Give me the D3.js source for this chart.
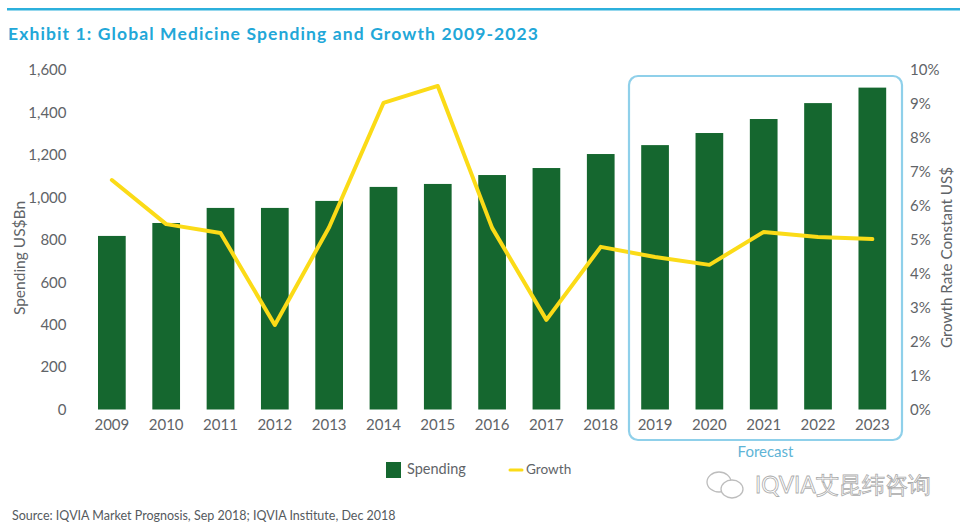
<!DOCTYPE html>
<html>
<head>
<meta charset="utf-8">
<script src="https://cdn.jsdelivr.net/npm/d3@7"></script>
<style>
  html, body { margin: 0; padding: 0; background: #fff; }
  text { font-family: Lato, "Noto Sans", sans-serif; }
  .axis path, .axis line { display: none; }
  .axis text { font-size: 15px; fill: #5f6468; font-family: Lato, "Noto Sans", sans-serif; }
</style>
</head>
<body>
<div id="chart"></div>
<script>
var years = ["2009","2010","2011","2012","2013","2014","2015","2016","2017","2018","2019","2020","2021","2022","2023"];
var spending = [818, 879, 950, 950, 983, 1049, 1063, 1105, 1138, 1204, 1246, 1303, 1369, 1444, 1517];
var growth = [6.76, 5.46, 5.2, 2.49, 5.37, 9.03, 9.53, 5.35, 2.64, 4.79, 4.49, 4.26, 5.23, 5.08, 5.02];
var spendingTicks = [0, 200, 400, 600, 800, 1000, 1200, 1400, 1600];
var growthTicks = [0, 1, 2, 3, 4, 5, 6, 7, 8, 9, 10];

var green = "#15672f", yellow = "#fbdb17", blue = "#22a7d8", boxBlue = "#8fd0ea";

var svg = d3.select("#chart").append("svg")
    .attr("width", 960)
    .attr("height", 528)
    .style("display", "block");

// top rule and title
svg.append("rect").attr("x", 7).attr("y", 8).attr("width", 953).attr("height", 2.5).attr("fill", "#2cb0dc");
svg.append("text").attr("x", 8).attr("y", 40)
    .attr("font-size", "17.5px").attr("font-weight", 700)
    .attr("font-family", "'Open Sans', sans-serif")
    .attr("textLength", 530)
    .attr("fill", blue)
    .text("Exhibit 1: Global Medicine Spending and Growth 2009-2023");

var x = d3.scaleBand().domain(years).range([84.7, 899.5]).paddingInner(0.49).paddingOuter(0.245);
var yL = d3.scaleLinear().domain([0, 1600]).range([409.5, 70]);
var yR = d3.scaleLinear().domain([0, 10]).range([409.5, 70]);

// bars
svg.append("g").selectAll("rect")
    .data(years)
    .enter()
    .append("rect")
    .attr("x", function(d) { return x(d); })
    .attr("y", function(d, i) { return yL(spending[i]); })
    .attr("width", x.bandwidth())
    .attr("height", function(d, i) { return yL(0) - yL(spending[i]); })
    .attr("fill", green);

// growth line
var line = d3.line()
    .x(function(d, i) { return x(years[i]) + x.bandwidth() / 2; })
    .y(function(d) { return yR(d); });

svg.append("path")
    .datum(growth)
    .attr("d", line)
    .attr("fill", "none")
    .attr("stroke", yellow)
    .attr("stroke-width", 4)
    .attr("stroke-linejoin", "round")
    .attr("stroke-linecap", "round");

// axes
svg.append("g").attr("class", "axis")
    .attr("transform", "translate(0,409.5)")
    .call(d3.axisBottom(x).tickSize(0).tickPadding(9.5));

svg.append("g").attr("class", "axis")
    .attr("transform", "translate(66.5,0)")
    .call(d3.axisLeft(yL).tickValues(spendingTicks).tickSize(0).tickPadding(0).tickFormat(d3.format(",")));

svg.append("g").attr("class", "axis")
    .attr("transform", "translate(910,0)")
    .call(d3.axisRight(yR).tickValues(growthTicks).tickSize(0).tickPadding(0).tickFormat(function(d) { return d + "%"; }));

// axis titles
svg.append("text")
    .attr("transform", "translate(24.5,258) rotate(-90)")
    .attr("text-anchor", "middle")
    .attr("font-size", "15.5px").attr("fill", "#5f6468")
    .text("Spending US$Bn");
svg.append("text")
    .attr("transform", "translate(951.5,257.5) rotate(-90)")
    .attr("text-anchor", "middle")
    .attr("font-size", "15.2px").attr("fill", "#5f6468")
    .text("Growth Rate Constant US$");

// forecast box
svg.append("rect")
    .attr("x", 629).attr("y", 76)
    .attr("width", 273).attr("height", 364)
    .attr("rx", 9)
    .attr("fill", "none")
    .attr("stroke", boxBlue)
    .attr("stroke-width", 2.2);
svg.append("text")
    .attr("x", 765.5).attr("y", 457)
    .attr("text-anchor", "middle")
    .attr("font-size", "15px").attr("fill", "#5fb4d6")
    .text("Forecast");

// legend
svg.append("rect").attr("x", 386).attr("y", 462).attr("width", 15).attr("height", 16).attr("fill", green);
svg.append("text").attr("x", 407).attr("y", 474).attr("font-size", "14.5px").attr("fill", "#5f6468").text("Spending");
svg.append("line").attr("x1", 510).attr("x2", 522).attr("y1", 470).attr("y2", 470)
    .attr("stroke", yellow).attr("stroke-width", 3).attr("stroke-linecap", "round");
svg.append("text").attr("x", 526).attr("y", 474).attr("font-size", "13.6px").attr("fill", "#5f6468").text("Growth");

// source
svg.append("text").attr("x", 12).attr("y", 520).attr("font-size", "12.5px").attr("fill", "#555a5e")
    .text("Source: IQVIA Market Prognosis, Sep 2018; IQVIA Institute, Dec 2018");

// watermark
var wm = svg.append("g").attr("fill", "#fff").attr("stroke", "#bdbdbd").attr("stroke-width", 1.3);
wm.append("ellipse").attr("cx", 719).attr("cy", 482).attr("rx", 12).attr("ry", 10);
wm.append("ellipse").attr("cx", 732).attr("cy", 489).attr("rx", 11).attr("ry", 9);
svg.append("text").attr("x", 755).attr("y", 493)
    .attr("font-family", "Lato, 'Noto Sans CJK SC', sans-serif")
    .attr("font-size", "22.5px")
    .attr("fill", "#fff").attr("stroke", "#ababab").attr("stroke-width", 0.8)
    .text("IQVIA艾昆纬咨询");
</script>
</body>
</html>
